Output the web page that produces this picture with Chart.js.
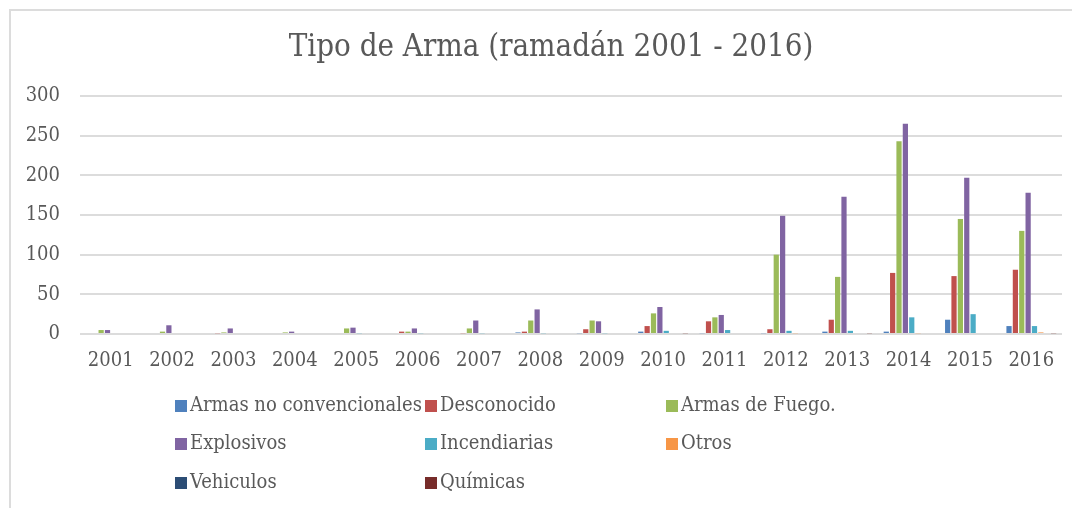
<!DOCTYPE html>
<html>
<head>
<meta charset="utf-8">
<script src="https://cdn.jsdelivr.net/npm/chart.js@4.4.0/dist/chart.umd.min.js"></script>
<style>
  html, body { margin: 0; padding: 0; background: #fff; }
  #marco {
    position: absolute; left: 9px; top: 9px; width: 1100px; height: 560px;
    border-left: 2px solid #dcdcdc; border-top: 2px solid #dcdcdc;
  }
  #contenedor { position: absolute; left: 0; top: 0; width: 1072px; height: 508px; }
</style>
</head>
<body>
<div id="marco"></div>
<div id="contenedor"><canvas id="grafico"></canvas></div>
<script>
// Datos
var titulo = "Tipo de Arma (ramadán 2001 - 2016)";
var anios = ["2001", "2002", "2003", "2004", "2005", "2006", "2007", "2008",
  "2009", "2010", "2011", "2012", "2013", "2014", "2015", "2016"];

var armasNoConvencionales = [0, 0, 0, 0, 0, 0, 0, 2, 1, 3, 1, 1, 3, 3, 18, 10];
var desconocido = [0, 0, 1, 0, 0, 3, 1, 3, 6, 10, 16, 6, 18, 77, 73, 81];
var armasDeFuego = [5, 3, 2, 2, 7, 3, 7, 17, 17, 26, 21, 100, 72, 243, 145, 130];
var explosivos = [5, 11, 7, 3, 8, 7, 17, 31, 16, 34, 24, 149, 173, 265, 197, 178];
var incendiarias = [0, 0, 0, 0, 1, 1, 1, 1, 1, 4, 5, 4, 4, 21, 25, 10];
var otros = [0, 0, 0, 0, 0, 0, 0, 0, 0, 0, 0, 1, 0, 1, 0, 2];
var vehiculos = [0, 0, 0, 0, 0, 0, 0, 0, 0, 0, 0, 0, 0, 0, 0, 0];
var quimicas = [0, 0, 0, 0, 0, 0, 0, 0, 0, 1, 0, 0, 1, 0, 0, 1];

var FUENTE = "'DejaVu Serif Condensed', 'DejaVu Serif', serif";
var GRIS = "#595959";

// Titulo y leyenda en tres columnas, como en Excel
var tituloYLeyenda = {
  id: "tituloYLeyenda",
  afterDraw: function (chart) {
    var ctx = chart.ctx;
    ctx.save();
    ctx.fillStyle = GRIS;
    ctx.font = "31px " + FUENTE;
    ctx.textAlign = "center";
    ctx.textBaseline = "middle";
    ctx.fillText(titulo, 551, 48);

    var columnas = [175, 425, 666];
    var filas = [406, 444, 483];
    ctx.font = "20px " + FUENTE;
    ctx.textAlign = "left";
    chart.data.datasets.forEach(function (ds, i) {
      var x = columnas[i % 3];
      var y = filas[Math.floor(i / 3)];
      ctx.fillStyle = ds.backgroundColor;
      ctx.fillRect(x, y - 6, 12, 12);
      ctx.fillStyle = GRIS;
      ctx.fillText(ds.label, x + 15, y);
    });
    ctx.restore();
  },
};

var ctx = document.getElementById("grafico").getContext("2d");
var chart = new Chart(ctx, {
  type: "bar",
  data: {
    labels: anios,
    datasets: [
      { label: "Armas no convencionales", data: armasNoConvencionales, backgroundColor: "#4F81BD" },
      { label: "Desconocido", data: desconocido, backgroundColor: "#C0504D" },
      { label: "Armas de Fuego.", data: armasDeFuego, backgroundColor: "#9BBB59" },
      { label: "Explosivos", data: explosivos, backgroundColor: "#8064A2" },
      { label: "Incendiarias", data: incendiarias, backgroundColor: "#4BACC6" },
      { label: "Otros", data: otros, backgroundColor: "#F79646" },
      { label: "Vehiculos", data: vehiculos, backgroundColor: "#2C4D75" },
      { label: "Químicas", data: quimicas, backgroundColor: "#772C2A" },
    ],
  },
  options: {
    responsive: true,
    maintainAspectRatio: false,
    animation: false,
    categoryPercentage: 0.83,
    barPercentage: 0.82,
    layout: {
      padding: { top: 96, right: 10, bottom: 128, left: 0 },
    },
    plugins: {
      legend: { display: false },
      tooltip: { enabled: false },
      title: { display: false },
    },
    scales: {
      x: {
        grid: { display: false },
        border: { display: false },
        ticks: {
          color: GRIS,
          font: { family: FUENTE, size: 20 },
          padding: 7,
          maxRotation: 0,
        },
      },
      y: {
        min: 0,
        max: 300,
        afterFit: function (scale) {
          scale.width = 80;
        },
        grid: { color: "#dcdcdc", lineWidth: 2, drawTicks: false },
        border: { display: false },
        ticks: {
          stepSize: 50,
          color: GRIS,
          font: { family: FUENTE, size: 20 },
          padding: 20,
        },
      },
    },
  },
  plugins: [tituloYLeyenda],
});
</script>
</body>
</html>
